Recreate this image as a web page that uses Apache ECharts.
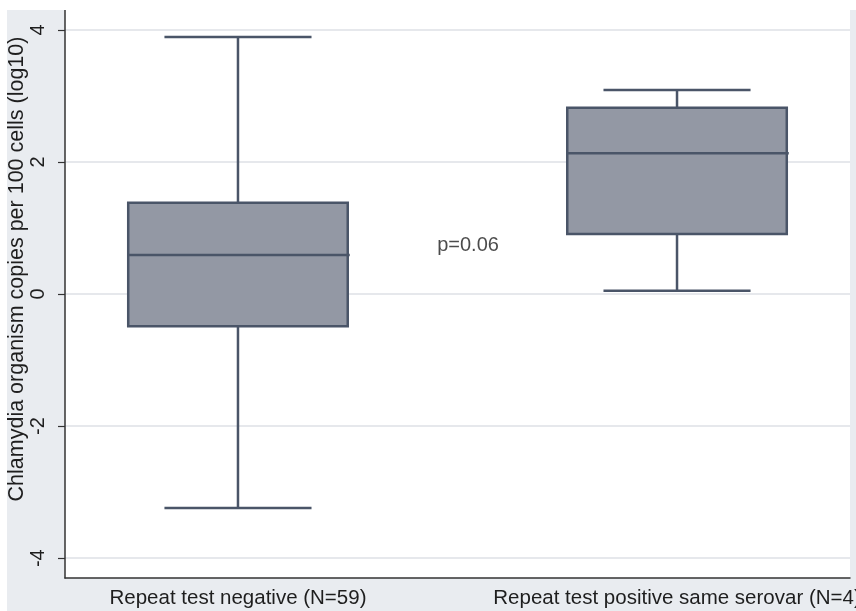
<!DOCTYPE html>
<html>
<head>
<meta charset="utf-8">
<script src="https://cdn.jsdelivr.net/npm/echarts@6/dist/echarts.min.js"></script>
<style>
  html, body { margin: 0; padding: 0; background: #ffffff; }
  #chart { position: absolute; left: 7px; top: 10px; width: 849px; height: 601px; }
</style>
</head>
<body>
<div id="chart"></div>
<script>
// ---- data ----
const categories = ['Repeat test negative (N=59)', 'Repeat test positive same serovar (N=4)'];
const categoryPos = [0, 1];
const lowWhisker = [-3.24, 0.05];
const q1 = [-0.49, 0.91];
const median = [0.59, 2.13];
const q3 = [1.38, 2.82];
const highWhisker = [3.89, 3.09];
const yTicks = [-4, -2, 0, 2, 4];
const annotationText = 'p=0.06';
const annotationPos = [0.524, 0.742];
const yAxisTitle = 'Chlamydia organism copies per 100 cells (log10)';

const boxData = categoryPos.map((x, i) => [x, lowWhisker[i], q1[i], median[i], q3[i], highWhisker[i]]);

const strokeColor = '#4a5568';
const fillColor = '#9398a4';
const textColor = '#1e1e1e';
const font = 'Liberation Sans, Arial, sans-serif';

function renderBox(params, api) {
  const x = api.value(0);
  const pLo = api.coord([x, api.value(1)]);
  const pQ1 = api.coord([x, api.value(2)]);
  const pMd = api.coord([x, api.value(3)]);
  const pQ3 = api.coord([x, api.value(4)]);
  const pHi = api.coord([x, api.value(5)]);
  const boxW = api.size([0.5, 0])[0];
  const capW = api.size([0.335, 0])[0];
  const cx = pMd[0];
  const lineStyle = { stroke: strokeColor, lineWidth: 2.5 };
  return {
    type: 'group',
    children: [
      { type: 'line', shape: { x1: cx, y1: pHi[1], x2: cx, y2: pQ3[1] }, style: lineStyle },
      { type: 'line', shape: { x1: cx, y1: pQ1[1], x2: cx, y2: pLo[1] }, style: lineStyle },
      { type: 'line', shape: { x1: cx - capW / 2, y1: pHi[1], x2: cx + capW / 2, y2: pHi[1] }, style: lineStyle },
      { type: 'line', shape: { x1: cx - capW / 2, y1: pLo[1], x2: cx + capW / 2, y2: pLo[1] }, style: lineStyle },
      { type: 'rect', shape: { x: cx - boxW / 2, y: pQ3[1], width: boxW, height: pQ1[1] - pQ3[1] },
        style: { fill: fillColor, stroke: strokeColor, lineWidth: 2.5 } },
      { type: 'line', shape: { x1: cx - boxW / 2, y1: pMd[1], x2: cx + boxW / 2 + 2, y2: pMd[1] }, style: lineStyle }
    ]
  };
}

const chart = echarts.init(document.getElementById('chart'), null, { renderer: 'canvas' });
chart.setOption({
  backgroundColor: '#e9ecf0',
  animation: false,
  grid: {
    left: 58, right: 6, top: 0, bottom: 33,
    outerBoundsMode: 'none',
    containLabel: false,
    show: true, backgroundColor: '#ffffff', borderWidth: 0
  },
  xAxis: {
    type: 'value',
    min: -0.394, max: 1.394,
    axisLine: { show: true, onZero: false, lineStyle: { color: '#333', width: 1.5 } },
    axisTick: { show: false, customValues: categoryPos },
    splitLine: { show: false },
    axisLabel: {
      customValues: categoryPos,
      formatter: v => categories[Math.round(v)],
      color: textColor, fontSize: 20.5, fontFamily: font, margin: 10
    }
  },
  yAxis: {
    type: 'value',
    min: -4.3, max: 4.3,
    axisLine: { show: true, onZero: false, lineStyle: { color: '#333', width: 1.5 } },
    axisTick: { show: true, length: 7, customValues: yTicks, lineStyle: { color: '#333', width: 1.2 } },
    axisLabel: {
      customValues: yTicks, rotate: 90, margin: 17,
      color: textColor, fontSize: 20, fontFamily: font
    },
    splitLine: { show: true, lineStyle: { color: '#e6e8ec', width: 2 } },
    name: yAxisTitle,
    nameLocation: 'middle',
    nameRotate: 90,
    nameGap: 37,
    nameMoveOverlap: false,
    nameTextStyle: { color: textColor, fontSize: 21.5, fontFamily: font, padding: [0, 0, 0, 50] }
  },
  series: [
    {
      type: 'custom',
      renderItem: renderBox,
      data: boxData,
      encode: { x: 0, y: [1, 2, 3, 4, 5] },
      z: 3
    },
    {
      type: 'scatter',
      data: [annotationPos],
      symbolSize: 0,
      label: {
        show: true, position: 'inside', formatter: annotationText,
        color: textColor, fontSize: 20, fontFamily: font
      },
      z: 4
    }
  ]
});
</script>
</body>
</html>
